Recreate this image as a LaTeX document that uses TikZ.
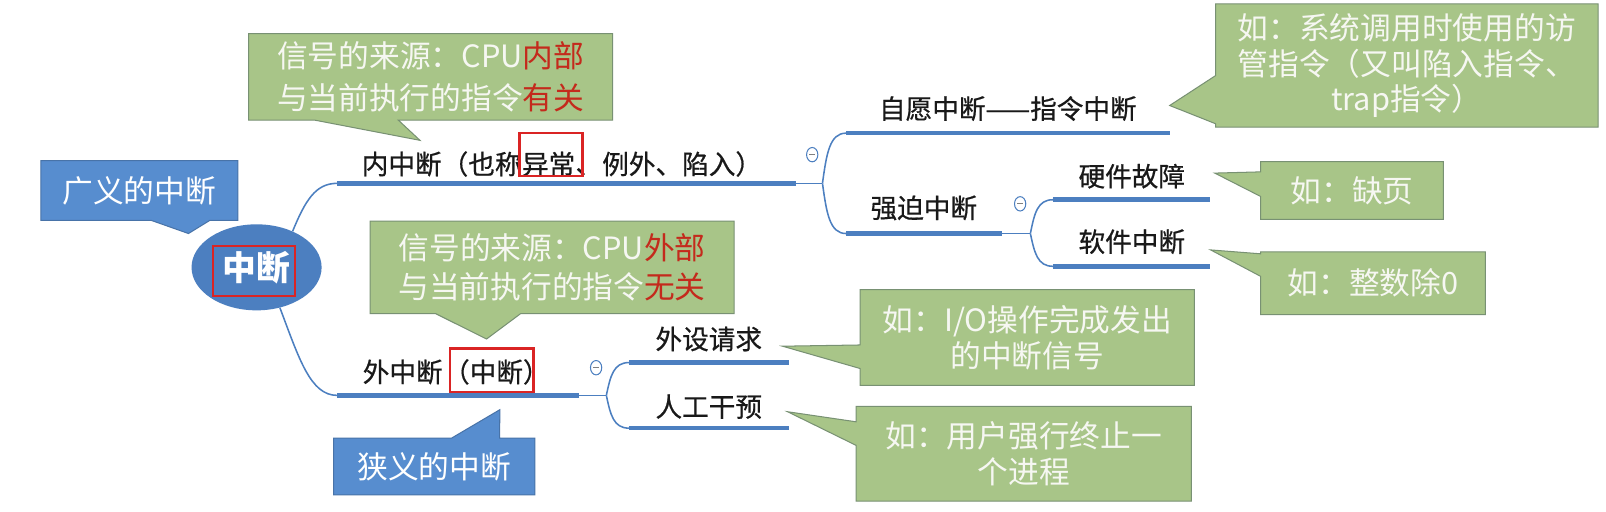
\documentclass[tikz,border=0pt]{standalone}
\usepackage{fontspec}
\setmainfont{Noto Sans CJK SC}
\newfontfamily\topicfont[FakeBold=0.6]{Noto Sans CJK SC}
\usetikzlibrary{calc,positioning,shapes.geometric,backgrounds}
\definecolor{mapblue}{RGB}{76,127,192}
\definecolor{notegreen}{RGB}{168,197,136}
\definecolor{noteline}{RGB}{120,145,115}
\definecolor{tagblue}{RGB}{87,141,207}
\definecolor{tagline}{RGB}{72,115,168}
\definecolor{markred}{RGB}{218,36,36}
\definecolor{keyred}{RGB}{196,42,28}
\definecolor{notetext}{RGB}{246,247,242}
\tikzset{
  hub/.style={ellipse,fill=mapblue,text=white,inner sep=0pt,
    minimum width=127pt,minimum height=84pt,font=\fontsize{33}{33}\selectfont\bfseries},
  topic/.style={inner sep=0pt,text=black!90,font=\topicfont\fontsize{26}{26}\selectfont},
  bar/.style={draw=mapblue,line width=4.5pt},
  twig/.style={draw=mapblue,line width=1.5pt},
  fold/.style={ellipse,draw=mapblue,line width=1pt,fill=white,inner sep=0pt,
    minimum width=11pt,minimum height=14pt,text=gray},
  hlbox/.style={draw=markred,line width=2.5pt},
  note/.style={inner sep=0pt,align=center,text=notetext,font=\fontsize{30}{35}\selectfont},
  notebg/.style={fill=notegreen,draw=noteline,line width=1pt},
  tagbg/.style={fill=tagblue,draw=tagline,line width=1pt}
}
\begin{document}
\begin{tikzpicture}[x=1pt,y=-1pt]
\useasboundingbox (0,0) rectangle (1568,499);

\node[hub] (hub) at (250.5,261) {中断};
\node[hlbox,minimum width=80pt,minimum height=49pt] (hubmark) at (248,264.5) {};

% inner branch
\coordinate (inner-l) at (329,179);
\coordinate (inner-r) at (777,179);
\coordinate (inner-j) at (803,179);
\node[topic,anchor=base west] (inner-a) at (353,170) {内中断（也称};
\node[topic,anchor=base west] (inner-b) at (inner-a.base east) {异常};
\node[topic,anchor=base west] (inner-c) at (inner-b.base east) {、例外、陷入）};
\draw[hlbox] ($(inner-b.base west)+(-2,2)$) rectangle ($(inner-b.base east)+(7,-40)$);
\draw[twig] (hub.45) .. controls (298,196) and (308,179) .. (inner-l);
\draw[bar] (inner-l) -- (inner-r);
\draw[twig] (inner-r) -- (inner-j);
\node[fold] (fold-inner) at (793,151) {\rule{6pt}{1.2pt}};

\coordinate (trap-l) at (826,130);
\coordinate (trap-r) at (1142,130);
\node[topic] (trap) at (984,106) {自愿中断——指令中断};
\draw[twig] (inner-j) .. controls (807,150) and (810,130) .. (trap-l);
\draw[bar] (trap-l) -- (trap-r);

\coordinate (force-l) at (826,228);
\coordinate (force-r) at (978,228);
\coordinate (force-j) at (1006,228);
\node[topic] (force) at (902,203) {强迫中断};
\draw[twig] (inner-j) .. controls (807,208) and (810,228) .. (force-l);
\draw[bar] (force-l) -- (force-r);
\draw[twig] (force-r) -- (force-j);
\node[fold] (fold-force) at (996,199) {\rule{6pt}{1.2pt}};

\coordinate (hw-l) at (1028,195);
\coordinate (hw-r) at (1181,195);
\coordinate (sw-l) at (1028,260);
\coordinate (sw-r) at (1181,260);
\node[topic] (hw) at (1105,172) {硬件故障};
\node[topic] (sw) at (1105,236) {软件中断};
\draw[twig] (force-j) .. controls (1010,208) and (1013,195) .. (hw-l);
\draw[twig] (force-j) .. controls (1010,247) and (1013,260) .. (sw-l);
\draw[bar] (hw-l) -- (hw-r);
\draw[bar] (sw-l) -- (sw-r);

% outer branch
\coordinate (outer-l) at (329,386);
\coordinate (outer-r) at (565,386);
\coordinate (outer-j) at (592,386);
\node[topic,anchor=base west] (outer-a) at (354,373) {外中断};
\node[topic,anchor=base west] (outer-b) at (outer-a.base east) {（中断）};
\draw[hlbox] ($(outer-b.base west)+(7,10)$) rectangle ($(outer-b.base east)+(-16,-33)$);
\draw[twig] (hub.-60) .. controls (292,350) and (303,386) .. (outer-l);
\draw[bar] (outer-l) -- (outer-r);
\draw[twig] (outer-r) -- (outer-j);
\node[fold] (fold-outer) at (582,359) {\rule{6pt}{1.2pt}};

\coordinate (dev-l) at (614,354);
\coordinate (dev-r) at (770,354);
\coordinate (man-l) at (614,418);
\coordinate (man-r) at (770,418);
\node[topic] (dev) at (692,331) {外设请求};
\node[topic] (man) at (692,397) {人工干预};
\draw[twig] (outer-j) .. controls (596,367) and (599,354) .. (dev-l);
\draw[twig] (outer-j) .. controls (596,405) and (599,418) .. (man-l);
\draw[bar] (dev-l) -- (dev-r);
\draw[bar] (man-l) -- (man-r);

% callouts
\node[note,font=\fontsize{30}{41}\selectfont,minimum width=355pt,minimum height=84pt] (srcin) at (420.5,75)
  {信号的来源：CPU\textcolor{keyred}{内部}\\与当前执行的指令\textcolor{keyred}{有关}};
\node[note,font=\fontsize{30}{39}\selectfont,minimum width=355pt,minimum height=90pt] (srcout) at (539,261)
  {信号的来源：CPU\textcolor{keyred}{外部}\\与当前执行的指令\textcolor{keyred}{无关}};
\node[note,text=white,minimum width=192pt,minimum height=58pt] (wide) at (136,186) {广义的中断};
\node[note,text=white,minimum width=196pt,minimum height=55pt] (narrow) at (424,455.5) {狭义的中断};
\node[note,minimum width=373pt,minimum height=120pt] (trapnote) at (1373.5,64)
  {如：系统调用时使用的访\\管指令（又叫陷入指令、\\trap指令）};
\node[note,minimum width=178pt,minimum height=56pt] (hwnote) at (1320,186) {如：缺页};
\node[note,minimum width=219pt,minimum height=61pt] (swnote) at (1340.5,276.5) {如：整数除0};
\node[note,minimum width=326pt,minimum height=93pt] (devnote) at (1003,329.5) {如：I/O操作完成发出\\的中断信号};
\node[note,minimum width=327pt,minimum height=92pt] (mannote) at (999.5,443) {如：用户强行终止一\\个进程};

\coordinate (srcin-tip) at (410,137);
\coordinate (srcout-tip) at (475,331);
\coordinate (wide-tip) at (184,228);
\coordinate (narrow-tip) at (488,400);
\coordinate (trapnote-tip) at (1142,103);
\coordinate (hwnote-tip) at (1186,169);
\coordinate (swnote-tip) at (1182,244);
\coordinate (devnote-tip) at (764,338);
\coordinate (mannote-tip) at (769,402);

\begin{scope}[on background layer]
\fill[white] (0,0) rectangle (1568,499);
\path[notebg] (srcin.north west) -- (srcin.north east) -- (srcin.south east)
  -- ($(srcin.south west)+(146,0)$) -- (srcin-tip) -- ($(srcin.south west)+(64,0)$) -- (srcin.south west) -- cycle;
\path[notebg] (srcout.north west) -- (srcout.north east) -- (srcout.south east)
  -- ($(srcout.south west)+(147,0)$) -- (srcout-tip) -- ($(srcout.south west)+(64,0)$) -- (srcout.south west) -- cycle;
\path[tagbg] (wide.north west) -- (wide.north east) -- (wide.south east)
  -- ($(wide.south west)+(165,0)$) -- (wide-tip) -- ($(wide.south west)+(108,0)$) -- (wide.south west) -- cycle;
\path[tagbg] (narrow.south west) -- (narrow.south east) -- (narrow.north east)
  -- ($(narrow.north west)+(162,0)$) -- (narrow-tip) -- ($(narrow.north west)+(115,0)$) -- (narrow.north west) -- cycle;
\path[notebg] (trapnote.north west) -- (trapnote.north east) -- (trapnote.south east) -- (trapnote.south west)
  -- ($(trapnote.north west)+(0,117)$) -- (trapnote-tip) -- ($(trapnote.north west)+(0,70)$) -- cycle;
\path[notebg] (hwnote.north west) -- (hwnote.north east) -- (hwnote.south east) -- (hwnote.south west)
  -- ($(hwnote.north west)+(0,34)$) -- (hwnote-tip) -- ($(hwnote.north west)+(0,10)$) -- cycle;
\path[notebg] (swnote.north west) -- (swnote.north east) -- (swnote.south east) -- (swnote.south west)
  -- ($(swnote.north west)+(0,24)$) -- (swnote-tip) -- ($(swnote.north west)+(0,2)$) -- cycle;
\path[notebg] (devnote.north west) -- (devnote.north east) -- (devnote.south east) -- (devnote.south west)
  -- ($(devnote.north west)+(0,77)$) -- (devnote-tip) -- ($(devnote.north west)+(0,54)$) -- cycle;
\path[notebg] (mannote.north west) -- (mannote.north east) -- (mannote.south east) -- (mannote.south west)
  -- ($(mannote.north west)+(0,38)$) -- (mannote-tip) -- ($(mannote.north west)+(0,15)$) -- cycle;
\end{scope}
\end{tikzpicture}
\end{document}
